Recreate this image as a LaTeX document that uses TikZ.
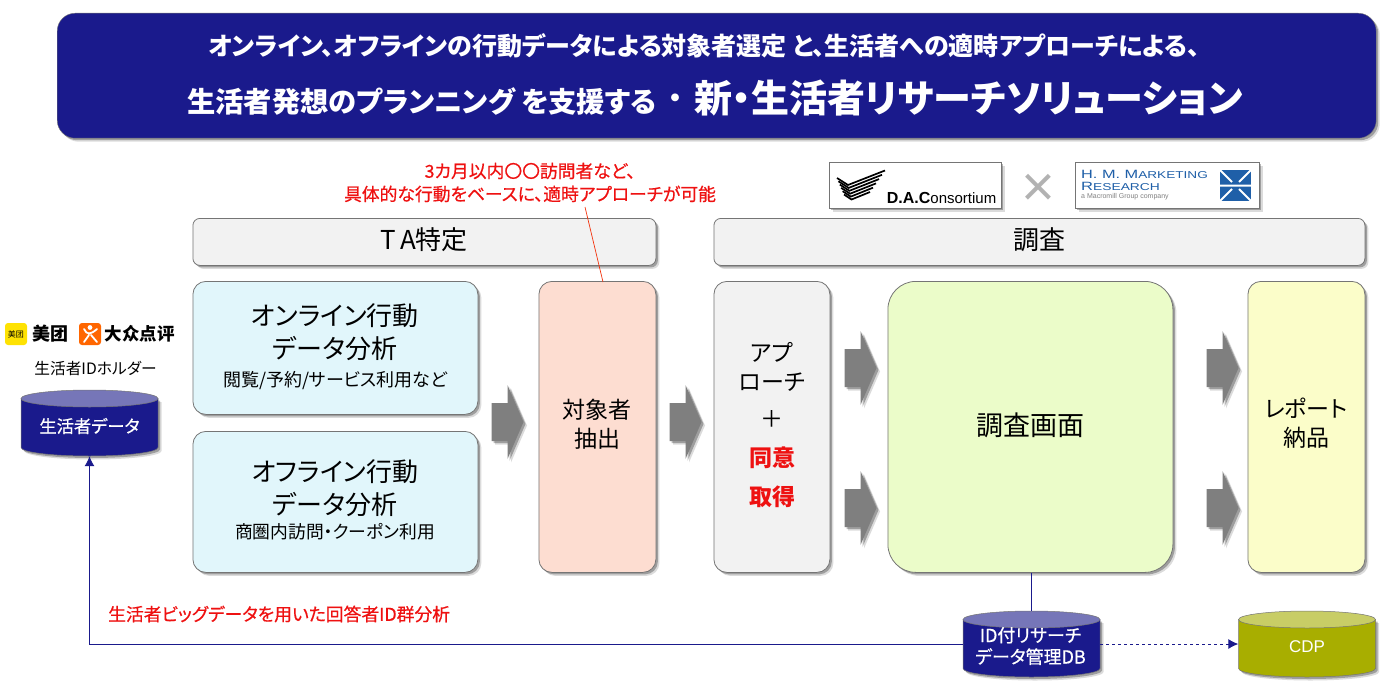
\documentclass[tikz,border=0pt]{standalone}
\usepackage{fontspec}
\setmainfont[RawFeature=+palt]{Noto Sans CJK JP}
\newfontfamily\medfont[RawFeature=+palt,FakeBold=0.6]{Noto Sans CJK JP}
\newfontfamily\scfont{Noto Sans CJK SC}
\newfontfamily\latinfont{Liberation Sans}
\usetikzlibrary{shadows,calc,arrows.meta}
\definecolor{navy}{HTML}{1A1A8C}
\definecolor{navytop}{HTML}{7676B8}
\definecolor{olive}{HTML}{A8AE00}
\definecolor{olivetop}{HTML}{C8CD66}
\definecolor{edgegray}{HTML}{757575}
\definecolor{headfill}{HTML}{F2F2F2}
\definecolor{bluefill}{HTML}{E1F6FB}
\definecolor{pinkfill}{HTML}{FDDDD1}
\definecolor{greenfill}{HTML}{EBFCC9}
\definecolor{yellowfill}{HTML}{FBFDC9}
\definecolor{arrowgray}{HTML}{7F7F7F}
\definecolor{redtext}{HTML}{EE1111}
\definecolor{hmblue}{HTML}{1F5FA8}
\tikzset{
  softshadow/.style={
    drop shadow={shadow xshift=3.5pt,shadow yshift=-3.5pt,opacity=.14,fill=black},
    drop shadow={shadow xshift=2pt,shadow yshift=-2pt,opacity=.28,fill=black}},
  box/.style={draw=edgegray,line width=.8pt,rounded corners=13pt,softshadow,align=center,anchor=north west,inner sep=0pt},
  headbox/.style={box,fill=headfill,rounded corners=7pt,font=\fontsize{26}{30}\selectfont},
  arrowshape/.style={fill=arrowgray,softshadow},
  drumnode/.style={shape=rectangle,minimum width=137pt,minimum height=66pt,inner sep=0pt,anchor=center},
  drumtext/.style={inner sep=0pt,align=center,text=white,anchor=center},
  link/.style={draw=navy,line width=.9pt},
  tipped/.style={-{Latex[length=10pt,width=10pt]}},
  redlabel/.style={text=redtext,font=\medfont\fontsize{17.8}{23}\selectfont,align=center},
  logobox/.style={draw=edgegray,fill=white,line width=.8pt,softshadow,anchor=north west,inner sep=0pt}
}
% centre x, centre y, body colour, top colour
\newcommand\drumshape[4]{%
  \path[fill=#3,draw=edgegray,line width=.5pt,softshadow] (#1-68.5,#2-24.5) -- (#1-68.5,#2+24.5) arc[start angle=180,end angle=360,x radius=68.5,y radius=-8.5] -- (#1+68.5,#2-24.5) -- cycle;
  \path[fill=#4,draw=edgegray,line width=.5pt] (#1,#2-24.5) ellipse[x radius=68.5,y radius=8.5];
}
% centre x, centre y
\newcommand\grayarrow[2]{%
  \path[arrowshape] (#1-16,#2-19) -- (#1,#2-19) -- (#1,#2-37) -- (#1+16,#2) -- (#1,#2+37) -- (#1,#2+19) -- (#1-16,#2+19) -- cycle;
}
\begin{document}
\begin{tikzpicture}[x=1pt,y=-1pt]
\useasboundingbox (0,0) rectangle (1394,690);
% title banner
\node[draw=edgegray,fill=navy,rounded corners=18pt,softshadow,anchor=north west,minimum width=1319pt,minimum height=125pt,inner sep=0pt] (banner) at (57,13) {};
\node[text=white,font=\fontsize{25}{30}\selectfont\bfseries,anchor=center] (title1) at (704,46) {オンライン、オフラインの行動データによる対象者選定 と、生活者への適時アプローチによる、};
\node[text=white,font=\fontsize{28.3}{34}\selectfont\bfseries,anchor=west,inner sep=0pt] (title2a) at (187,101) {生活者発想のプランニング を支援する};
\node[text=white,font=\fontsize{28}{34}\selectfont\bfseries] (title2dot) at (675,101) {・};
\node[text=white,font=\fontsize{38}{44}\selectfont\bfseries,anchor=west,inner sep=0pt] (title2b) at (694,98) {新・生活者リサーチソリューション};
% red note
\node[redlabel] (note) at (530,182.5) {3カ月以内〇〇訪問者など、\\具体的な行動をベースに、適時アプローチが可能};
% logos
\node[logobox,minimum width=172pt,minimum height=46pt] (daclogo) at (829,162) {};
\foreach \i in {0,...,5}{
  \draw[black,line width=1.7pt] (837+\i*1.4,178+\i*3.3) -- (848+\i*.7,185+\i*2.9) -- (885-\i*3,170.5+\i*4.3);
}
\node[anchor=base east,inner sep=0pt,text=black,font=\latinfont\fontsize{15}{18}\selectfont] (dactext) at (996.5,203) {\textbf{\fontsize{16}{18}\selectfont D.A.C}onsortium};
\node[text=gray!60,font=\latinfont\fontsize{58}{58}\selectfont] (times) at (1038,190) {×};
\node[logobox,minimum width=184pt,minimum height=46pt] (hmlogo) at (1075,162) {};
\node[anchor=west,inner sep=0pt,text=hmblue,font=\latinfont\fontsize{12}{13}\selectfont] (hmline1) at (1081,174) {\scalebox{1.36}[1]{H. M. M\fontsize{10}{13}\selectfont ARKETING}};
\node[anchor=west,inner sep=0pt,text=hmblue,font=\latinfont\fontsize{12}{13}\selectfont] (hmline2) at (1081,186) {\scalebox{1.38}[1]{R\fontsize{10}{13}\selectfont ESEARCH}};
\node[anchor=west,inner sep=0pt,text=gray,font=\latinfont\fontsize{7}{8}\selectfont] (hmsub) at (1081,197) {a Macromill Group company};
\fill[hmblue] (1220,170) rectangle (1251,201);
\draw[white,line width=2pt] (1220,170) -- (1232,182) (1251,170) -- (1239,182) (1220,201) -- (1232,189) (1251,201) -- (1239,189) (1220,185.5) -- (1251,185.5);
% section headers
\node[headbox,minimum width=463pt,minimum height=47pt] (hta) at (192.5,218) {};
\node[font=\fontsize{26}{30}\selectfont] (htatext) at (424,240) {T\,A特定};
\node[headbox,minimum width=651pt,minimum height=47pt] (hsurvey) at (713.5,218) {};
\node[font=\fontsize{26}{30}\selectfont] (hsurveytext) at (1039,240) {調査};
% boxes
\node[box,fill=bluefill,minimum width=285pt,minimum height=133pt] (online) at (192.5,281) {};
\node[font=\fontsize{26}{33}\selectfont,align=center] (onlinet) at (335,332.5) {オンライン行動\\データ分析};
\node[font=\fontsize{18}{20}\selectfont] (onlines) at (335,381) {閲覧/予約/サービス利用など};
\node[box,fill=bluefill,minimum width=285pt,minimum height=141pt] (offline) at (192.5,431) {};
\node[font=\fontsize{26}{33}\selectfont,align=center] (offlinet) at (335,488.5) {オフライン行動\\データ分析};
\node[font=\fontsize{17.8}{20}\selectfont] (offlines) at (335,532) {商圏内訪問・クーポン利用};
\node[box,fill=pinkfill,minimum width=117pt,minimum height=291pt] (extract) at (538.5,281) {};
\node[font=\fontsize{23}{29}\selectfont,align=center] (extracttext) at (597,424.5) {対象者\\抽出};
\node[box,fill=headfill,minimum width=116pt,minimum height=291pt] (approach) at (713.5,281) {};
\node[font=\fontsize{23}{29}\selectfont,align=center] (apptext) at (772,366.5) {アプ\\ローチ};
\node[font=\fontsize{23}{26}\selectfont] (plus) at (772,419) {＋};
\node[font=\fontsize{23}{39}\selectfont\bfseries,text=redtext,align=center] (consent) at (772,477) {同意\\取得};
\node[box,fill=greenfill,rounded corners=28pt,minimum width=285pt,minimum height=291pt] (screen) at (887.5,281) {};
\node[font=\fontsize{27}{30}\selectfont] (screentext) at (1030,425) {調査画面};
\node[box,fill=yellowfill,minimum width=117pt,minimum height=291pt] (report) at (1247.5,281) {};
\node[font=\fontsize{23}{29}\selectfont,align=center] (reporttext) at (1306,423.5) {レポート\\納品};
% block arrows
\grayarrow{507.5}{422}
\grayarrow{685.5}{422}
\grayarrow{860.5}{368}
\grayarrow{860.5}{508}
\grayarrow{1222.5}{368}
\grayarrow{1222.5}{508}
% drums
\drumshape{89.5}{423}{navy}{navytop}
\node[drumnode] (persondb) at (89.5,423) {};
\node[drumtext,font=\medfont\fontsize{17.3}{24}\selectfont] (persontext) at (89.5,426) {生活者データ};
\drumshape{1031.5}{644}{navy}{navytop}
\node[drumnode] (iddb) at (1031.5,644) {};
\node[drumtext,font=\medfont\fontsize{18}{21.5}\selectfont] (idtext) at (1030.5,646) {ID付リサーチ\\データ管理DB};
\drumshape{1307}{644}{olive}{olivetop}
\node[drumnode] (cdp) at (1307,644) {};
\node[drumtext,font=\latinfont\fontsize{17}{20}\selectfont] (cdptext) at (1307,646.5) {CDP};
% holder logos
\node[fill=yellow!85!orange,rounded corners=3pt,minimum width=22pt,minimum height=22pt,inner sep=0pt,font=\scfont\fontsize{8}{8}\selectfont] (mticon) at (16,334) {美团};
\node[font=\scfont\fontsize{18}{20}\selectfont\bfseries] (mt) at (50,334) {美团};
\node[fill=orange!80!red,rounded corners=3pt,minimum width=22pt,minimum height=22pt,inner sep=0pt] (dpicon) at (90,334) {};
\draw[white,line width=1.8pt,line cap=round] (84,329) .. controls (87,335) and (90,335) .. (97,329) (89,335) -- (84,342) (91,335) -- (97,342);
\fill[white] (90,327.5) circle (2.4pt);
\node[font=\scfont\fontsize{17.5}{20}\selectfont\bfseries] (dp) at (139.5,334) {大众点评};
\node[font=\fontsize{15.7}{18}\selectfont] (holder) at (95.5,368) {生活者IDホルダー};
% connectors
\coordinate (notefoot) at (585,207);
\coordinate (notehead) at (603,282);
\draw[link] (screen.south -| iddb.north) -- (iddb.north);
\draw[link,tipped] (iddb.west) -- (iddb.west -| persondb.south) -- (persondb.south);
\draw[link,dashed,tipped] (iddb.east) -- (cdp.west);
\draw[redtext!70!orange,line width=.7pt] (notefoot) -- (notehead);
\node[redlabel,anchor=west,inner sep=0pt] (biglabel) at (108,614) {生活者ビッグデータを用いた回答者ID群分析};
\end{tikzpicture}
\end{document}
